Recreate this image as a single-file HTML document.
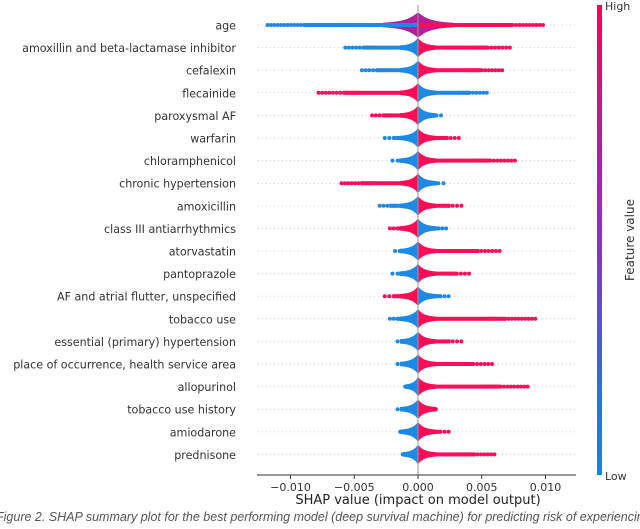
<!DOCTYPE html>
<html><head><meta charset="utf-8"><style>
body{margin:0;background:#fff;width:640px;height:524px;overflow:hidden}
svg{font-family:"DejaVu Sans","Liberation Sans",sans-serif}
</style></head><body>
<svg id="chart" width="640" height="524" xmlns="http://www.w3.org/2000/svg">
<defs><linearGradient id="cb" x1="0" y1="1" x2="0" y2="0"><stop offset="0" stop-color="#008bfb"/><stop offset="0.5" stop-color="#8a2fd0"/><stop offset="1" stop-color="#ff0052"/></linearGradient></defs>
<g id="grid"></g><g id="dots"></g>
<line x1="418" y1="5" x2="418" y2="475" stroke="#999" stroke-width="1"/>
<line x1="257" y1="475" x2="576" y2="475" stroke="#333" stroke-width="1"/>
<g id="ticks"></g><g id="labels"></g>
<text x="418" y="504" text-anchor="middle" font-size="13" fill="#222">SHAP value (impact on model output)</text>
<rect x="597" y="5" width="5" height="470" fill="url(#cb)"/>
<text x="605" y="10" font-size="11" fill="#333">High</text>
<text x="605" y="480" font-size="11" fill="#333">Low</text>
<text x="0" y="0" font-size="12" fill="#333" text-anchor="middle" transform="translate(634,240) rotate(-90)">Feature value</text>
<text x="-4" y="521" font-size="12.5" font-style="italic" fill="#555" font-family="Liberation Sans,sans-serif">Figure 2. SHAP summary plot for the best performing model (deep survival machine) for predicting risk of experiencing</text>
</svg>
<script>
const features=["age","amoxillin and beta-lactamase inhibitor","cefalexin","flecainide","paroxysmal AF","warfarin","chloramphenicol","chronic hypertension","amoxicillin","class III antiarrhythmics","atorvastatin","pantoprazole","AF and atrial flutter, unspecified","tobacco use","essential (primary) hypertension","place of occurrence, health service area","allopurinol","tobacco use history","amiodarone","prednisone"];
const minShap=[-0.0118,-0.0057,-0.0044,-0.0078,-0.0036,-0.0026,-0.0020,-0.0060,-0.0030,-0.0022,-0.0018,-0.0020,-0.0026,-0.0022,-0.0016,-0.0016,-0.0010,-0.0016,-0.0014,-0.0012];
const maxShap=[0.0098,0.0072,0.0066,0.0054,0.0018,0.0032,0.0076,0.0020,0.0034,0.0022,0.0064,0.0040,0.0024,0.0092,0.0034,0.0058,0.0086,0.0014,0.0024,0.0060];
const redOnRight=[1,1,1,0,0,1,1,0,1,0,1,1,0,1,1,1,1,1,1,1];
const tickValues=[-0.010,-0.005,0.000,0.005,0.010];
const tickLabels=["\u22120.010","\u22120.005","0.000","0.005","0.010"];
const NS="http://www.w3.org/2000/svg";
const xs=v=>418+v*12750, ys=i=>25+i*22.6;
const g=document.getElementById('grid'),d=document.getElementById('dots'),tk=document.getElementById('ticks'),lb=document.getElementById('labels');
const RED="#ff0d57",BLUE="#1e88e5";
function mk(t,a,p){const e=document.createElementNS(NS,t);for(const k in a)e.setAttribute(k,a[k]);p.appendChild(e);return e;}
tickValues.forEach((v,i)=>{
 const l=mk('line',{x1:xs(v),x2:xs(v),y1:475,y2:479,stroke:'#333'},tk);
 
 
 const t=mk('text',{x:xs(v),y:491,'text-anchor':'middle','font-size':11,fill:'#333'},tk);t.textContent=tickLabels[i];
 
 
});
features.forEach((f,i)=>{
 const y=ys(i);
 const gl=mk('line',{x1:258,x2:575,y1:y,y2:y,stroke:'#ccc','stroke-dasharray':'1 3'},g);
 
 
 const t=mk('text',{x:236,y:y+4.5,'text-anchor':'end','font-size':11.1,fill:'#333'},lb);t.textContent=f;
 
 
 const row=mk('g',{},d);
 
 
 const sides=[[minShap[i],redOnRight[i]?BLUE:RED],[maxShap[i],redOnRight[i]?RED:BLUE]];
 const core=i==0?11:8;
 sides.forEach(([ext,col])=>{
  const span=Math.abs(xs(ext)-418),dir=ext<0?-1:1;
  const w=Math.min(span,i==0?35:18);
  let pts=[];
  for(let k=0;k<=20;k++){const u=k/20;const h=core*Math.exp(-3*u)+1.8;pts.push([418+dir*u*w,y-h]);}
  for(let k=20;k>=0;k--){const u=k/20;const h=core*Math.exp(-3*u)+1.8;pts.push([418+dir*u*w,y+h]);}
  const p=mk('polygon',{points:pts.map(q=>q.join(',')).join(' '),fill:i==0?'#b0209a':col},row);
  
  
  mk('rect',{x:Math.min(418,418+dir*span*0.75),y:y-2,width:span*0.75,height:4,fill:col},row);
  const n=Math.max(3,Math.round(span/8));
  for(let k=0;k<n;k++){const u=0.6+0.4*k/(n-1);
   const c=mk('circle',{cx:418+dir*span*u,cy:y,r:2,fill:col},row);
   
   }
 });
});
</script>
</body></html>
